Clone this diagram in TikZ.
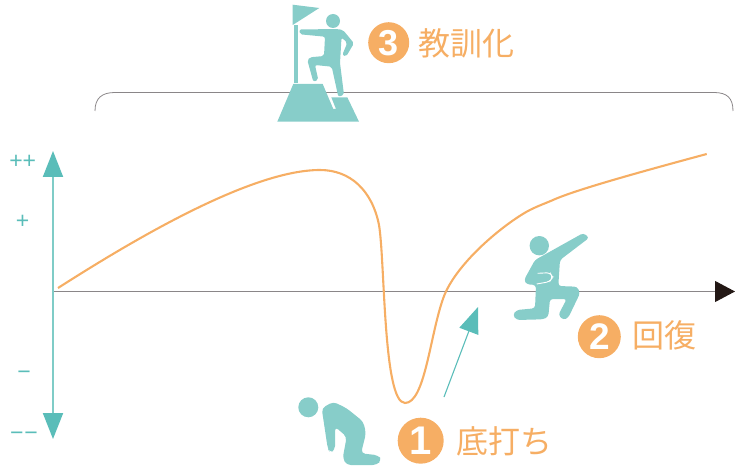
\documentclass[tikz,border=0pt]{standalone}
\usepackage{fontspec}
\setmainfont{Noto Sans CJK JP}
\newfontfamily\digitfont{Liberation Sans}
\usetikzlibrary{arrows.meta}
\definecolor{figteal}{HTML}{87CDC9}
\definecolor{axisteal}{HTML}{7FCCC7}
\definecolor{tipteal}{HTML}{5ABDB9}
\definecolor{curveorange}{HTML}{F6AE64}
\definecolor{axisgray}{HTML}{8A8688}
\definecolor{tipblack}{HTML}{231815}
\tikzset{
  figure/.style={fill=figteal,rounded corners=2pt},
  stepdisc/.style={circle,fill=curveorange,text=white,inner sep=0pt,font=\digitfont\bfseries},
  steplabel/.style={text=curveorange,inner sep=0pt,font=\fontsize{32}{32}\selectfont},
  levellabel/.style={text=tipteal,inner sep=0pt,font=\digitfont\fontsize{23}{23}\selectfont},
}
\begin{document}
\begin{tikzpicture}[x=1pt,y=-1pt]
      \useasboundingbox (0,0) rectangle (750,476);

      % axes
      \coordinate (origin) at (53,291.5);
      \coordinate (xend) at (735,291.5);
      \coordinate (ytop) at (53,151);
      \coordinate (ybottom) at (53,439);
      \draw[axisgray,line width=0.9pt,-{Triangle[length=20pt,width=21pt,color=tipblack]}] (origin) to (xend);
      \draw[axisteal,line width=2pt,{Triangle[length=26pt,width=20pt,color=tipteal]}-{Triangle[length=26pt,width=20pt,color=tipteal]}] (ytop) to (ybottom);

      \node[levellabel] (plusplus) at (22.7,161.5) {++};
      \node[levellabel] (plus) at (22.7,221.5) {+};
      \node[levellabel] (minus) at (24,375) {−};
      \node[levellabel] (minusminus) at (24,436) {−\kern1pt−};

      % bracket
      \coordinate (bracketl) at (95,111);
      \coordinate (bracketr) at (733,111);
      \draw[axisgray,line width=0.8pt] (bracketl) .. controls (95,98) and (102,92.5) .. (115,92.5) -- (714,92.5) .. controls (727,92.5) and (733,98) .. (bracketr);

      % curve
      \coordinate (curvestart) at (58,288);
      \coordinate (curvetop) at (320,170);
      \coordinate (curvelow) at (405,403);
      \coordinate (curveend) at (706.7,154);
      \draw[curveorange,line width=2.1pt] (curvestart) .. controls (130,242) and (250,170) .. (curvetop)
        .. controls (350,170) and (372,190) .. (379,225)
        .. controls (385,260) and (383,403) .. (curvelow)
        .. controls (425,403) and (430,335) .. (443.3,298)
        .. controls (455,265) and (500,227) .. (526.7,211.7)
        .. controls (535,207) and (545,203.5) .. (553,200)
        .. controls (575,190) and (640,172) .. (curveend);

      % rise arrow
      \coordinate (risefrom) at (444,397);
      \coordinate (riseto) at (478,307);
      \draw[tipteal,line width=1.1pt,-{Triangle[length=26pt,width=20pt]}] (risefrom) to (riseto);

      % figure 3, on the summit
      \fill[figteal] (277.3,121.7) -- (293.3,84) -- (322.7,84) -- (333.3,109) -- (336,109) -- (331.3,97.3) -- (347.3,97.3) -- (359,121.7) -- cycle;
      \fill[figteal] (294.3,25) rectangle (298,83);
      \fill[figteal] (292.7,4.7) -- (319.3,8) -- (292.7,25) -- cycle;
      \fill[figteal] (333,21) circle (7);
      \fill[figure] (299.3,29.5) -- (337,29) -- (343,30) -- (354,43.3) -- (346,56.7) -- (342.3,55) -- (347.3,42.7) -- (341.5,37.5) -- (340,63) -- (344,95) -- (338.3,96.7) -- (331.7,66.7) -- (315,65) -- (318.3,80) -- (313.3,81.7) -- (307.3,60) -- (310,57.3) -- (324,56) -- (325,36.7) -- (300,34.3) -- cycle;

      % figure 2, kneeling
      \fill[figteal] (539.3,245.7) circle (9.7);
      \fill[figure,rounded corners=3pt] (583.3,233) -- (589.3,237.7) -- (560,260) -- (558.3,286) -- (577.3,286.7) -- (580,293.3) -- (568.3,317.7) -- (563.3,320) -- (558.3,315) -- (566.7,299) -- (550,299) -- (548.3,316.7) -- (543.3,319.3) -- (516.7,320) -- (512.7,315) -- (516.7,310) -- (535,308.3) -- (536,285) -- (526.7,284.3) -- (524,280) -- (535,260) -- cycle;
      \draw[white,line width=0.9pt,rounded corners=3pt] (537.7,273.3) -- (550,272.7) -- (552.7,277.3) -- (549.5,281.7) -- (536.7,284);

      % figure 1, bowing
      \fill[figteal] (308.3,407.3) circle (10);
      \fill[figure,rounded corners=4pt] (321.7,408.3) -- (333.3,401.7) -- (346.7,408.3) -- (363.3,421.7) -- (366,433.3) -- (361,453.3) -- (378.3,455.3) -- (381.7,460) -- (376.7,465) -- (346.7,465) -- (342.7,458.3) -- (346.7,436.7) -- (335,426.7) -- (335,450) -- (330,452.7) -- (327.7,448.3) -- cycle;

      % step labels
      \node[stepdisc,minimum size=41pt,font=\digitfont\bfseries\fontsize{36}{36}\selectfont] (disc3) at (388.7,42.7) {3};
      \node[steplabel,anchor=west] (kyokun) at (418,43) {教訓化};
      \node[stepdisc,minimum size=43pt,font=\digitfont\bfseries\fontsize{37}{37}\selectfont] (disc2) at (599.3,336.7) {2};
      \node[steplabel,anchor=west] (kaifuku) at (632,335) {回復};
      \node[stepdisc,minimum size=46pt,font=\digitfont\bfseries\fontsize{40}{40}\selectfont] (disc1) at (420.7,440.7) {1};
      \node[steplabel,anchor=west] (sokouchi) at (456,441) {底打ち};
    \end{tikzpicture}
\end{document}
